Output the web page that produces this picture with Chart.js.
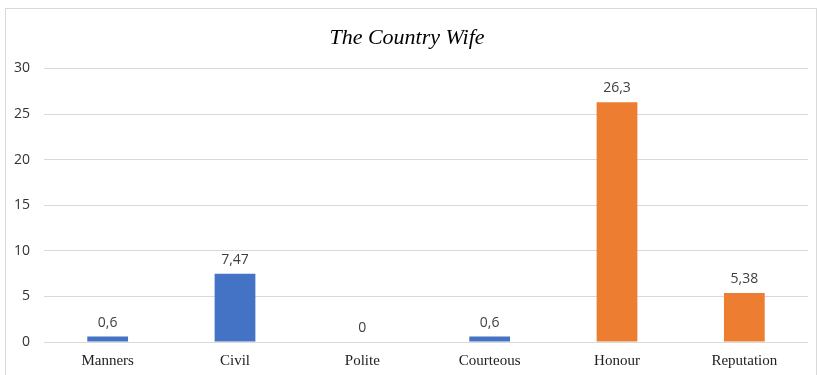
<!DOCTYPE html>
<html>
<head>
<meta charset="utf-8">
<script src="https://cdn.jsdelivr.net/npm/chart.js@4"></script>
<style>
  html, body { margin: 0; padding: 0; background: #fff; }
  #wrap { position: relative; width: 819px; height: 375px; }
  #frame { position: absolute; left: 5px; top: 8px; width: 812px; height: 380px; border: 1px solid #d9d9d9; box-sizing: border-box; }
  canvas { position: absolute; left: 0; top: 0; }
</style>
</head>
<body>
<div id="wrap">
  <div id="frame"></div>
  <canvas id="chart" width="819" height="375"></canvas>
</div>
<script>
const categories = ['Manners', 'Civil', 'Polite', 'Courteous', 'Honour', 'Reputation'];
const values = [0.6, 7.47, 0, 0.6, 26.3, 5.38];
const valueLabels = ['0,6', '7,47', '0', '0,6', '26,3', '5,38'];
const barColors = ['#4472c4', '#4472c4', '#4472c4', '#4472c4', '#ed7d31', '#ed7d31'];

// draws the numbers above each bar
const barLabels = {
    id: 'barLabels',
    afterDatasetsDraw(chart) {
        const ctx = chart.ctx;
        const meta = chart.getDatasetMeta(0);
        ctx.save();
        ctx.font = '14px "Open Sans", sans-serif';
        ctx.fillStyle = '#404040';
        ctx.textAlign = 'center';
        ctx.textBaseline = 'bottom';
        meta.data.forEach((bar, i) => {
            ctx.fillText(valueLabels[i], bar.x, bar.y - 7);
        });
        ctx.restore();
    }
};

new Chart(document.getElementById('chart').getContext('2d'), {
    type: 'bar',
    data: {
        labels: categories,
        datasets: [{
            data: values,
            backgroundColor: barColors,
            barPercentage: 0.64,
            categoryPercentage: 0.5
        }]
    },
    options: {
        responsive: false,
        animation: false,
        layout: { padding: { left: 6, right: 11, top: 25, bottom: 3 } },
        plugins: {
            legend: { display: false },
            tooltip: { enabled: false },
            title: {
                display: true,
                text: 'The Country Wife',
                color: '#000',
                font: { family: '"Liberation Serif", serif', size: 22, style: 'italic', weight: 'normal' },
                padding: { top: 0, bottom: 17 }
            }
        },
        scales: {
            x: {
                grid: { display: false },
                border: { display: false },
                ticks: {
                    color: '#222',
                    padding: 2,
                    font: { family: '"Liberation Serif", serif', size: 15 }
                }
            },
            y: {
                min: 0,
                max: 30,
                ticks: {
                    stepSize: 5,
                    color: '#333',
                    padding: 14,
                    font: { family: '"Open Sans", sans-serif', size: 14 }
                },
                grid: { color: '#d9d9d9', drawTicks: false },
                border: { display: false },
                afterFit(scale) { scale.width = 38; }
            }
        }
    },
    plugins: [barLabels]
});
</script>
</body>
</html>
